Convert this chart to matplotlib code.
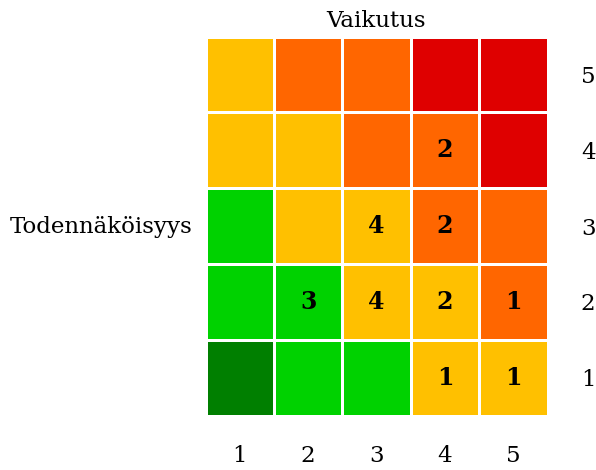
import matplotlib
matplotlib.use("Agg")
import matplotlib.pyplot as plt
import numpy as np
from matplotlib.colors import ListedColormap

# risk level of each cell, rows = likelihood 1..5 (bottom to top), cols = impact 1..5
levels = [
    [0, 1, 1, 2, 2],
    [1, 1, 2, 2, 3],
    [1, 2, 2, 3, 3],
    [2, 2, 3, 3, 4],
    [2, 3, 3, 4, 4],
]
# number of risks in each cell
counts = [
    [0, 0, 0, 1, 1],
    [0, 3, 4, 2, 1],
    [0, 0, 4, 2, 0],
    [0, 0, 0, 2, 0],
    [0, 0, 0, 0, 0],
]
impact = [1, 2, 3, 4, 5]
likelihood = [1, 2, 3, 4, 5]
level_colors = ["#007F00", "#00D200", "#FFC000", "#FF6600", "#DF0000"]

plt.rcParams["font.family"] = ["DejaVu Serif"]

fig = plt.figure(figsize=(5.96, 4.70), dpi=100)
W, H = 596, 470
ax = fig.add_axes([205.5 / W, 1 - 415.5 / H, 342 / W, 379 / H])

lv = np.array(levels)
edges_x = np.arange(len(impact) + 1) + 0.5
edges_y = np.arange(len(likelihood) + 1) + 0.5
ax.pcolormesh(edges_x, edges_y, lv, cmap=ListedColormap(level_colors),
              vmin=-0.5, vmax=4.5, edgecolors="white", linewidth=2.1)

for i, row in enumerate(counts):
    for j, c in enumerate(row):
        if c:
            ax.text(impact[j], likelihood[i], str(c), ha="center", va="center",
                    fontsize=17, fontweight="bold", color="black")

ax.set_xlim(0.5, 5.5)
ax.set_ylim(0.5, 5.5)
ax.set_xticks(impact)
ax.set_xticklabels([str(v) for v in impact])
ax.set_yticks(likelihood)
ax.set_yticklabels([str(v) for v in likelihood])
ax.yaxis.tick_right()
ax.tick_params(axis="x", length=0, pad=21, labelsize=16.5)
ax.tick_params(axis="y", length=0, pad=24, labelsize=16.5)
for s in ax.spines.values():
    s.set_visible(False)

ax.set_title("Vaikutus", fontsize=16.5, pad=7)
fig.text(10 / W, 1 - 227 / H, "Todennäköisyys", fontsize=16.5, ha="left", va="center")

fig.savefig("out.png", dpi=100)
